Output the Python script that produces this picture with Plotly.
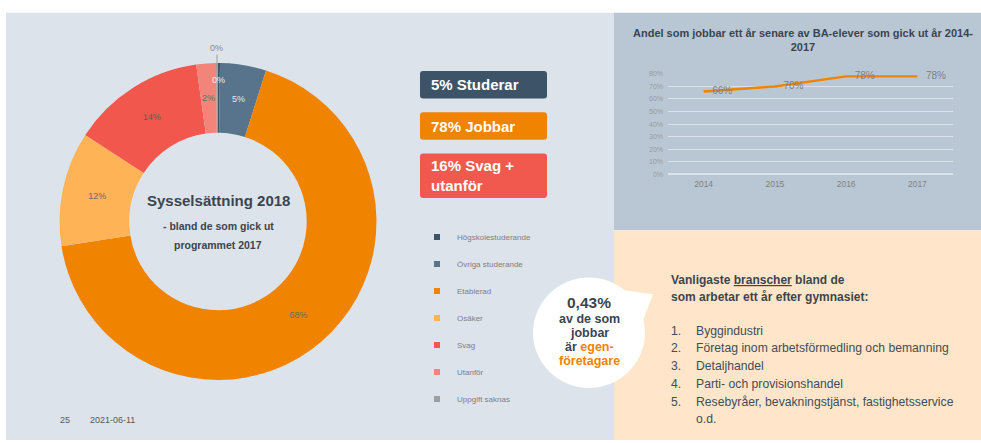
import math
import plotly.graph_objects as go

W, H = 981, 443
FONT = "Liberation Sans, Arial, sans-serif"
DARK = "#3b4550"
ORANGE = "#f08300"

# ---------------- data ----------------
pie_labels = ["Högskolestuderande", "Övriga studerande", "Etablerad", "Osäker",
              "Svag", "Utanför", "Uppgift saknas"]
pie_values = [0.2, 4.7, 67.6, 11.7, 13.6, 2.0, 0.2]
pie_colors = ["#3d5468", "#57748c", "#f08300", "#feb357", "#f1574d", "#f3847a", "#9e9e9e"]

line_years = ["2014", "2015", "2016", "2017"]
line_values = [0.66, 0.70, 0.78, 0.78]

summary_boxes = [("5% Studerar", "#3d5468"), ("78% Jobbar", "#f08300"),
                 ("16% Svag +<br>utanför", "#f1594e")]

bubble_lines = ["0,43%", "av de som", "jobbar",
                "är <span style='color:#f08300'>egen-</span>",
                "<span style='color:#f08300'>företagare</span>"]

heading_lines = ["Vanligaste <u>branscher</u> bland de",
                 "som arbetar ett år efter gymnasiet:"]

branscher = ["Byggindustri",
             "Företag inom arbetsförmedling och bemanning",
             "Detaljhandel",
             "Parti- och provisionshandel",
             "Resebyråer, bevakningstjänst, fastighetsservice",
             "o.d."]


def px(x):
    return x / W


def py(y):
    return 1 - y / H


def ann(x, y, text, size, color, xanchor="center", yanchor="middle", **kw):
    d = dict(x=px(x), y=py(y), xref="paper", yref="paper", showarrow=False,
             xanchor=xanchor, yanchor=yanchor, text=text,
             font=dict(family=FONT, size=size, color=color))
    d.update(kw)
    return d


# pie geometry (layout)
CX, CY, R, HOLE = 218, 221, 161, 0.56

fig = go.Figure()

# labels drawn by plotly for the larger slices; small slices labelled from their data angle
text_pos = ["none", "none", "inside", "inside", "inside", "none", "none"]
text_cols = ["#f0f0f0", "#e4e9ee", "#6b6b6b", "#6b6b6b", "#5f5f5f", "#6b6b6b", "#8a8a8a"]
fig.add_trace(go.Pie(
    labels=pie_labels, values=pie_values, sort=False, direction="clockwise",
    rotation=0, hole=HOLE,
    marker=dict(colors=pie_colors, line=dict(width=0)),
    texttemplate="%{percent:.0%}", textposition=text_pos,
    insidetextorientation="horizontal",
    textfont=dict(family=FONT, size=9, color=text_cols),
    domain=dict(x=[px(CX - R), px(CX + R)], y=[py(CY + R), py(CY - R)]),
    showlegend=False, hoverinfo="label+percent",
))

annotations = []

tot = sum(pie_values)
cum = 0.0
n = len(pie_values)
for i, v in enumerate(pie_values):
    mid = cum + v / 2
    cum += v
    if text_pos[i] != "none":
        continue
    theta = 2 * math.pi * mid / tot
    label = "%d%%" % round(100 * v / tot)
    if i == n - 1:
        # outside label with a leader line
        annotations.append(ann(CX + R * math.sin(theta), CY - R * math.cos(theta), label, 9,
                               text_cols[i], showarrow=True, ax=0, ay=-15, arrowhead=0,
                               arrowwidth=1, arrowcolor="#9e9e9e", standoff=0))
        continue
    rr = 0.89 * R if i == 0 else (1 + HOLE) / 2 * R
    annotations.append(ann(CX + rr * math.sin(theta), CY - rr * math.cos(theta),
                           label, 9, text_cols[i]))

# legend entries (one per category)
for lab, col in zip(pie_labels, pie_colors):
    fig.add_trace(go.Scatter(x=[None], y=[None], mode="markers", name=lab,
                             legendgroup=lab, xaxis="x3", yaxis="y3",
                             marker=dict(symbol="square", size=6, color=col)))

# line chart
fig.add_trace(go.Scatter(
    x=line_years, y=line_values, mode="lines+markers+text", xaxis="x2", yaxis="y2",
    line=dict(color=ORANGE, width=2.4), showlegend=False,
    marker=dict(size=12, opacity=0, color=ORANGE),
    text=["%d%%" % round(v * 100) for v in line_values], textposition="middle right",
    textfont=dict(family=FONT, size=10, color="#808080"), cliponaxis=False,
))

shapes = []
# background panels
shapes.append(dict(type="rect", xref="paper", yref="paper", x0=px(6), x1=px(614),
                   y0=py(443), y1=py(9), fillcolor="#dce3ea", line=dict(width=0), layer="below"))
shapes.append(dict(type="rect", xref="paper", yref="paper", x0=px(614), x1=px(981),
                   y0=py(230), y1=py(9), fillcolor="#b9c7d5", line=dict(width=0), layer="below"))
shapes.append(dict(type="rect", xref="paper", yref="paper", x0=px(614), x1=px(981),
                   y0=py(443), y1=py(230), fillcolor="#ffe5c9", line=dict(width=0), layer="below"))


def rounded(x0, y0, x1, y1, r=3):
    p = (f"M {px(x0 + r)},{py(y0)} L {px(x1 - r)},{py(y0)} Q {px(x1)},{py(y0)} {px(x1)},{py(y0 + r)} "
         f"L {px(x1)},{py(y1 - r)} Q {px(x1)},{py(y1)} {px(x1 - r)},{py(y1)} "
         f"L {px(x0 + r)},{py(y1)} Q {px(x0)},{py(y1)} {px(x0)},{py(y1 - r)} "
         f"L {px(x0)},{py(y0 + r)} Q {px(x0)},{py(y0)} {px(x0 + r)},{py(y0)} Z")
    return p


box_rows = [(68, 96), (110, 138), (152, 197)]
for (txt, col), (y0, y1) in zip(summary_boxes, box_rows):
    shapes.append(dict(type="path", xref="paper", yref="paper", path=rounded(420, y0, 547, y1),
                       fillcolor=col, line=dict(width=0), layer="below"))
    annotations.append(ann(429, (y0 + y1) / 2, "<b>%s</b>" % txt, 15, "white",
                           xanchor="left", align="left"))

# speech bubble
shapes.append(dict(type="circle", xref="paper", yref="paper", x0=px(533), x1=px(645),
                   y0=py(390), y1=py(278), fillcolor="white", line=dict(width=0)))
shapes.append(dict(type="path", xref="paper", yref="paper",
                   path=f"M {px(618)},{py(290)} L {px(653)},{py(295)} L {px(642)},{py(324)} Z",
                   fillcolor="white", line=dict(width=0)))

bubble_y = [303, 320, 334, 349, 363]
for i, (t, yy) in enumerate(zip(bubble_lines, bubble_y)):
    annotations.append(ann(589, yy, "<b>%s</b>" % t, 15.5 if i == 0 else 12.5, DARK))

# center text of donut
annotations.append(ann(CX, 200, "<b>Sysselsättning 2018</b>", 15, DARK))
annotations.append(ann(CX, 226, "<b>- bland de som gick ut</b>", 10.5, DARK))
annotations.append(ann(CX, 245, "<b>programmet 2017</b>", 10.5, DARK))

# line chart title
annotations.append(ann(803, 37, "<b>Andel som jobbar ett år senare av BA-elever som gick ut år 2014-<br>2017</b>",
                       11, DARK))

# industries text
for t, yy in zip(heading_lines, [280, 298]):
    annotations.append(ann(669, yy, "<b>%s</b>" % t, 12, DARK, xanchor="left"))
for i, item in enumerate(branscher):
    yy = 332 + i * 18
    if i < 5:
        annotations.append(ann(669, yy, "%d." % (i + 1), 12.2, "#444d57", xanchor="left"))
    annotations.append(ann(694, yy, item, 12.2, "#444d57", xanchor="left"))

# footer
annotations.append(ann(58, 423, "25", 9, "#595959", xanchor="left"))
annotations.append(ann(88, 423, "2021-06-11", 9, "#595959", xanchor="left"))

fig.update_layout(
    width=W, height=H, margin=dict(l=0, r=0, t=0, b=0),
    paper_bgcolor="white", plot_bgcolor="rgba(0,0,0,0)",
    font=dict(family=FONT),
    shapes=shapes, annotations=annotations,
    showlegend=True,
    legend=dict(x=px(417), y=py(222), xanchor="left", yanchor="top",
                bgcolor="rgba(0,0,0,0)", tracegroupgap=8,
                font=dict(family=FONT, size=8, color="#7f7f7f")),
    xaxis2=dict(domain=[px(668), px(953)], anchor="y2", type="category",
                range=[-0.5, 3.5], showgrid=False, zeroline=False, showline=False,
                ticks="", ticklabelstandoff=3,
                tickfont=dict(family=FONT, size=8.5, color="#808080")),
    yaxis2=dict(domain=[py(173), py(71)], anchor="x2", range=[0, 0.8001], dtick=0.1,
                tickformat=".0%", showgrid=True, gridcolor="#dbe2ea", gridwidth=1,
                zeroline=True, zerolinecolor="#dbe2ea", showline=False, ticks="",
                ticklabelstandoff=4,
                tickfont=dict(family=FONT, size=7, color="#9a9a9a")),
    xaxis3=dict(visible=False, domain=[0, 0.01]),
    yaxis3=dict(visible=False, domain=[0, 0.01], anchor="x3"),
)

fig.write_html("out.html", config={"displayModeBar": False},
               post_script="document.body.style.margin='0';")
